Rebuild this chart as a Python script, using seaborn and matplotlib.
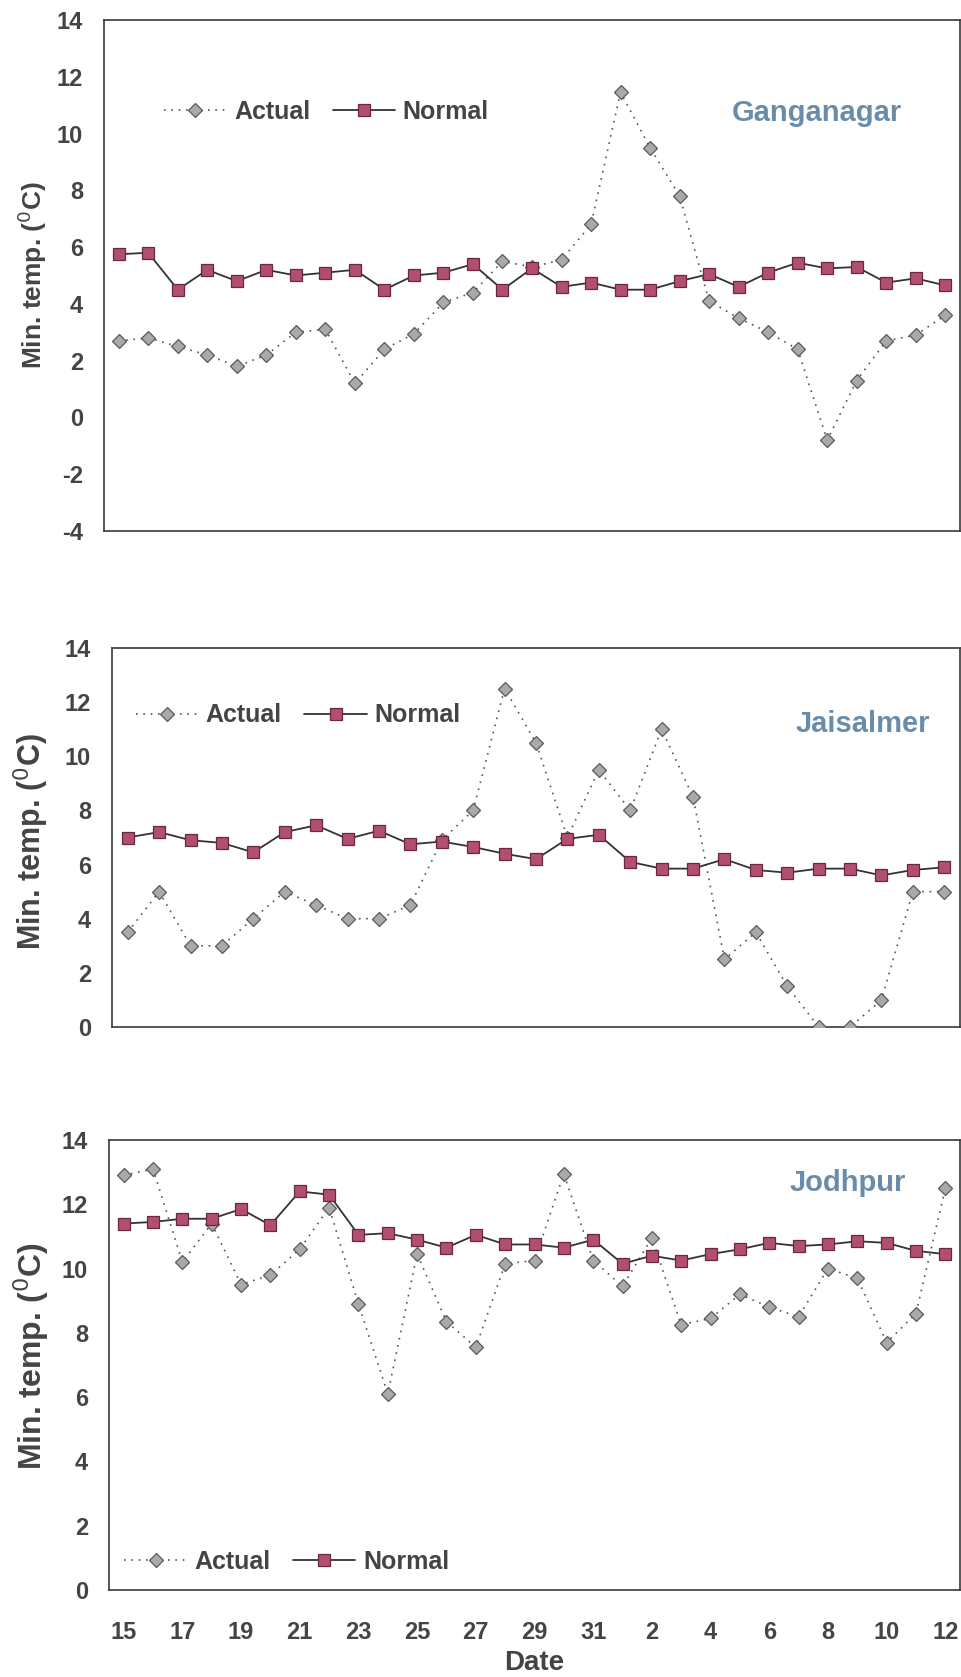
import numpy as np
import pandas as pd
import matplotlib
matplotlib.use("Agg")
import matplotlib.pyplot as plt
import seaborn as sns

# ---- data -------------------------------------------------------------
dates_full = [15, 16, 17, 18, 19, 20, 21, 22, 23, 24, 25, 26, 27, 28, 29, 30, 31,
              1, 2, 3, 4, 5, 6, 7, 8, 9, 10, 11, 12]
dates_jsm = dates_full[:27]

gng_actual = [2.7, 2.8, 2.5, 2.2, 1.8, 2.2, 3.0, 3.1, 1.2, 2.4, 2.95, 4.05, 4.4, 5.5,
              5.3, 5.55, 6.8, 11.45, 9.5, 7.8, 4.1, 3.5, 3.0, 2.4, -0.8, 1.3, 2.7, 2.9, 3.6]
gng_normal = [5.75, 5.8, 4.5, 5.2, 4.8, 5.2, 5.0, 5.1, 5.2, 4.5, 5.0, 5.1, 5.4, 4.5,
              5.25, 4.6, 4.75, 4.5, 4.5, 4.8, 5.05, 4.6, 5.1, 5.45, 5.25, 5.3, 4.75, 4.9, 4.65]

jsm_actual = [3.5, 5.0, 3.0, 3.0, 4.0, 5.0, 4.5, 4.0, 4.0, 4.5, 6.9, 8.0, 12.5, 10.5,
              7.0, 9.5, 8.0, 11.0, 8.5, 2.5, 3.5, 1.5, 0.0, 0.0, 1.0, 5.0, 5.0]
jsm_normal = [7.0, 7.2, 6.9, 6.8, 6.45, 7.2, 7.45, 6.95, 7.25, 6.75, 6.85, 6.65, 6.4,
              6.2, 6.95, 7.1, 6.1, 5.85, 5.85, 6.2, 5.8, 5.7, 5.85, 5.85, 5.6, 5.8, 5.9]

jdh_actual = [12.9, 13.1, 10.2, 11.4, 9.5, 9.8, 10.6, 11.9, 8.9, 6.1, 10.45, 8.35, 7.55,
              10.15, 10.25, 12.95, 10.25, 9.45, 10.95, 8.25, 8.45, 9.2, 8.8, 8.5, 10.0,
              9.7, 7.7, 8.6, 12.5]
jdh_normal = [11.4, 11.45, 11.55, 11.55, 11.85, 11.35, 12.4, 12.3, 11.05, 11.1, 10.9,
              10.65, 11.05, 10.75, 10.75, 10.65, 10.9, 10.15, 10.4, 10.25, 10.45, 10.6,
              10.8, 10.7, 10.75, 10.85, 10.8, 10.55, 10.45]

stations = ["Ganganagar", "Jaisalmer", "Jodhpur"]
x_ticklabels = [str(d) for d in dates_full[::2]]

# ---- style ------------------------------------------------------------
sns.set_theme(style="white")
plt.rcParams["font.family"] = ["Liberation Sans", "DejaVu Sans"]
plt.rcParams["axes.unicode_minus"] = False

TXT = "#444444"
STATION = "#6a8cab"
ACT_FACE, ACT_EDGE = "#a9a9a9", "#5a5a5a"
NOR_FACE, NOR_EDGE = "#b24f70", "#6a2740"

W, H = 961, 1677
fig = plt.figure(figsize=(W / 100, H / 100), dpi=100)
fig.patch.set_facecolor("white")


def frame(left, top, right, bottom):
    return [left / W, 1 - bottom / H, (right - left) / W, (bottom - top) / H]


panels = [
    dict(name=stations[0], dates=dates_full, act=gng_actual, nor=gng_normal,
         rect=frame(104, 20, 960, 531), ylim=(-4, 14), lab_size=19,
         ylab_xy=(-0.064, 0.50), leg_xy=(0.070, 0.82), st_xy=(0.833, 0.818)),
    dict(name=stations[1], dates=dates_jsm, act=jsm_actual, nor=jsm_normal,
         rect=frame(112, 648, 960, 1027), ylim=(0, 14), lab_size=22,
         ylab_xy=(-0.072, 0.49), leg_xy=(0.028, 0.822), st_xy=(0.886, 0.80)),
    dict(name=stations[2], dates=dates_full, act=jdh_actual, nor=jdh_normal,
         rect=frame(109, 1140, 960, 1590), ylim=(0, 14), lab_size=23,
         ylab_xy=(-0.068, 0.52), leg_xy=(0.018, 0.062), st_xy=(0.868, 0.905)),
]

for i, p in enumerate(panels):
    ax = fig.add_axes(p["rect"])
    n = len(p["dates"])
    df = pd.DataFrame({"pos": np.arange(n), "Actual": p["act"], "Normal": p["nor"]})

    sns.lineplot(data=df, x="pos", y="Actual", ax=ax, label="Actual",
                 color="#555555", linewidth=1.2, linestyle=(0, (1, 3.4)),
                 marker="D", markersize=7, markerfacecolor=ACT_FACE,
                 markeredgecolor=ACT_EDGE, markeredgewidth=0.9, zorder=3)
    sns.lineplot(data=df, x="pos", y="Normal", ax=ax, label="Normal",
                 color="#333333", linewidth=1.3, linestyle="-",
                 marker="s", markersize=8.5, markerfacecolor=NOR_FACE,
                 markeredgecolor=NOR_EDGE, markeredgewidth=0.9, zorder=4)

    ax.set_xlim(-0.5, n - 0.5)
    ax.set_ylim(*p["ylim"])
    ax.set_yticks(np.arange(p["ylim"][0], p["ylim"][1] + 1, 2))
    ax.tick_params(axis="y", length=0, pad=15, labelsize=17, labelcolor=TXT)
    for t in ax.get_yticklabels():
        t.set_fontweight("bold")

    if i == 2:
        ax.set_xticks(np.arange(0, n, 2))
        ax.set_xticklabels(x_ticklabels, fontsize=17, fontweight="bold", color=TXT)
        ax.tick_params(axis="x", length=0, pad=22)
        ax.set_xlabel("Date", fontsize=20, fontweight="bold", color=TXT, labelpad=5)
    else:
        ax.set_xticks([])
        ax.set_xlabel("")

    ax.set_ylabel("Min. temp. ($^{0}$C)", fontsize=p["lab_size"],
                  fontweight="bold", color=TXT)
    ax.yaxis.set_label_coords(*p["ylab_xy"])

    for side, sp in ax.spines.items():
        sp.set_color("#3a3a3a")
        sp.set_linewidth(1.2)

    leg = ax.legend(loc="center left", bbox_to_anchor=p["leg_xy"], ncol=2,
                    frameon=False, fontsize=18, handlelength=2.5,
                    handletextpad=0.3, columnspacing=0.9, borderpad=0,
                    borderaxespad=0)
    for t in leg.get_texts():
        t.set_fontweight("bold")
        t.set_color(TXT)

    ax.text(*p["st_xy"], p["name"], transform=ax.transAxes, ha="center",
            va="center", fontsize=21, fontweight="bold", color=STATION)

fig.savefig("out.png", dpi=100, facecolor="white")
